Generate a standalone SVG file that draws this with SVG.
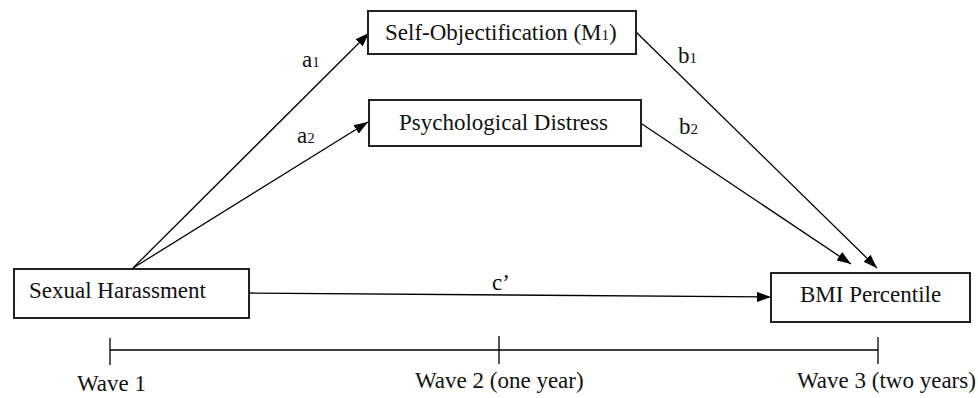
<svg xmlns="http://www.w3.org/2000/svg" width="978" height="398" viewBox="0 0 978 398">
<style>
  .box { fill: #ffffff; stroke: #222222; stroke-width: 2; }
  .lbl { font-family: "Liberation Serif", "Times New Roman", serif; font-size: 23px; fill: #111111; }
  .sub { font-size: 15px; }
  .edge { stroke: #000000; stroke-width: 1.3; fill: none; marker-end: url(#arrow); }
  .axis { stroke: #000000; stroke-width: 1.3; fill: none; }
</style>
<defs>
  <marker id="arrow" viewBox="0 0 14 10" refX="14" refY="5" markerWidth="14" markerHeight="10" markerUnits="userSpaceOnUse" orient="auto">
    <path d="M0,0 L14,5 L0,10 z" fill="#000000"/>
  </marker>
</defs>
<rect width="978" height="398" fill="#ffffff"/>

<g id="connectors">
  <line class="edge" x1="133" y1="268" x2="369" y2="33"/>
  <line class="edge" x1="133" y1="268" x2="368" y2="122"/>
  <line class="edge" x1="636" y1="32" x2="877" y2="268"/>
  <line class="edge" x1="642" y1="124" x2="851" y2="264"/>
  <line class="edge" x1="249" y1="293" x2="771" y2="297"/>
  <text class="lbl" x="302" y="67">a<tspan class="sub">1</tspan></text>
  <text class="lbl" x="297" y="143">a<tspan class="sub">2</tspan></text>
  <text class="lbl" x="678" y="63">b<tspan class="sub">1</tspan></text>
  <text class="lbl" x="679" y="134">b<tspan class="sub">2</tspan></text>
  <text class="lbl" x="492" y="290">c’</text>
</g>

<g id="node-sexual-harassment">
  <rect class="box" x="14" y="269" width="235" height="49"/>
  <text class="lbl" x="29" y="298">Sexual Harassment</text>
</g>

<g id="node-self-objectification">
  <rect class="box" x="368" y="11" width="268" height="43"/>
  <text class="lbl" x="385" y="40">Self-Objectification (M<tspan class="sub">1</tspan>)</text>
</g>

<g id="node-psychological-distress">
  <rect class="box" x="369" y="100" width="272" height="46"/>
  <text class="lbl" x="399" y="130">Psychological Distress</text>
</g>

<g id="node-bmi-percentile">
  <rect class="box" x="771" y="273" width="199" height="49"/>
  <text class="lbl" x="800" y="302">BMI Percentile</text>
</g>

<g id="timeline">
  <line class="axis" x1="110" y1="350" x2="878" y2="350"/>
  <line class="axis" x1="110" y1="338" x2="110" y2="365"/>
  <line class="axis" x1="499" y1="336" x2="499" y2="364"/>
  <line class="axis" x1="878" y1="337" x2="878" y2="364"/>
  <text class="lbl" x="77" y="391">Wave 1</text>
  <text class="lbl" x="415" y="388">Wave 2 (one year)</text>
  <text class="lbl" x="797" y="388">Wave 3 (two years)</text>
</g>
</svg>
